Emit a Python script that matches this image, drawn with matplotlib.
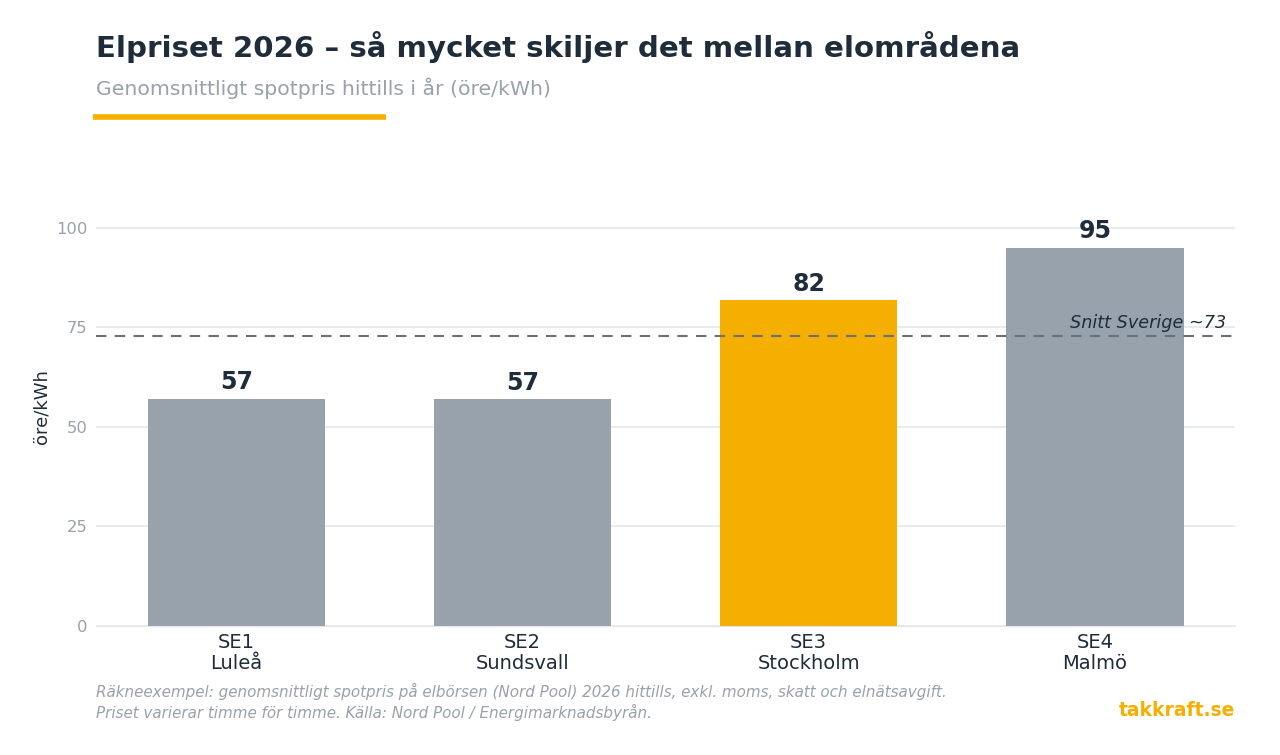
import matplotlib.pyplot as plt

# data
zones = ["SE1", "SE2", "SE3", "SE4"]
cities = ["Luleå", "Sundsvall", "Stockholm", "Malmö"]
prices = [57.1, 56.9, 81.8, 95.0]
price_labels = ["57", "57", "82", "95"]
avg_sweden = 72.9
yticks = [0, 25, 50, 75, 100]

dark = "#1f2d3a"
grey_txt = "#98a1ac"
bar_grey = "#98a2ad"
yellow = "#f5af00"

fig = plt.figure(figsize=(12.8, 7.55), dpi=100)
ax = fig.add_axes([0.075, 0.1709, 0.89, 0.58])

colors = [yellow if z == "SE3" else bar_grey for z in zones]
x = range(len(zones))
ax.bar(x, prices, width=0.62, color=colors, zorder=2)

for i, (v, lab) in enumerate(zip(prices, price_labels)):
    ax.text(i, v + 1.2, lab, ha="center", va="bottom", fontsize=17,
            fontweight="bold", color=dark)

ax.axhline(avg_sweden, color="#6b6f76", linestyle=(0, (5, 4)), linewidth=1.5, zorder=3)
ax.text(3.46, avg_sweden + 1.0, "Snitt Sverige ~73", ha="right", va="bottom",
        fontsize=12.7, style="italic", color=dark, zorder=4)

ax.set_xlim(-0.49, 3.49)
ax.set_ylim(0, 110)
ax.set_yticks(yticks)
ax.set_xticks(list(x))
ax.set_xticklabels([f"{z}\n{c}" for z, c in zip(zones, cities)], fontsize=14,
                   color=dark, linespacing=1.15)
ax.tick_params(axis="y", labelsize=11.8, labelcolor=grey_txt, length=0, pad=6)
ax.tick_params(axis="x", length=0, pad=5)
ax.grid(axis="y", color="#e4e7ea", linewidth=1.2, zorder=0)
for s in ["left", "right", "top"]:
    ax.spines[s].set_visible(False)
ax.spines["bottom"].set_color("#e4e7ea")
ax.set_ylabel("öre/kWh", fontsize=13, color=dark, labelpad=4)

fig.text(96 / 1280, 1 - 47 / 755, "Elpriset 2026 – så mycket skiljer det mellan elområdena",
         fontsize=21.1, fontweight="bold", color=dark, va="center")
fig.text(96 / 1280, 1 - 88 / 755, "Genomsnittligt spotpris hittills i år (öre/kWh)",
         fontsize=14.7, color=grey_txt, va="center")
fig.add_artist(plt.Line2D([93 / 1280, 386 / 1280], [1 - 117 / 755, 1 - 117 / 755],
                          color=yellow, linewidth=4, solid_capstyle="butt"))

fig.text(96 / 1280, 1 - 691 / 755,
         "Räkneexempel: genomsnittligt spotpris på elbörsen (Nord Pool) 2026 hittills, exkl. moms, skatt och elnätsavgift.",
         fontsize=10.9, style="italic", color=grey_txt, va="center")
fig.text(96 / 1280, 1 - 712 / 755,
         "Priset varierar timme för timme. Källa: Nord Pool / Energimarknadsbyrån.",
         fontsize=10.9, style="italic", color=grey_txt, va="center")
fig.text(1235 / 1280, 1 - 711 / 755, "takkraft.se", fontsize=13.5, fontweight="bold",
         color=yellow, ha="right", va="center")

fig.savefig("out.png", dpi=100, facecolor="white")
